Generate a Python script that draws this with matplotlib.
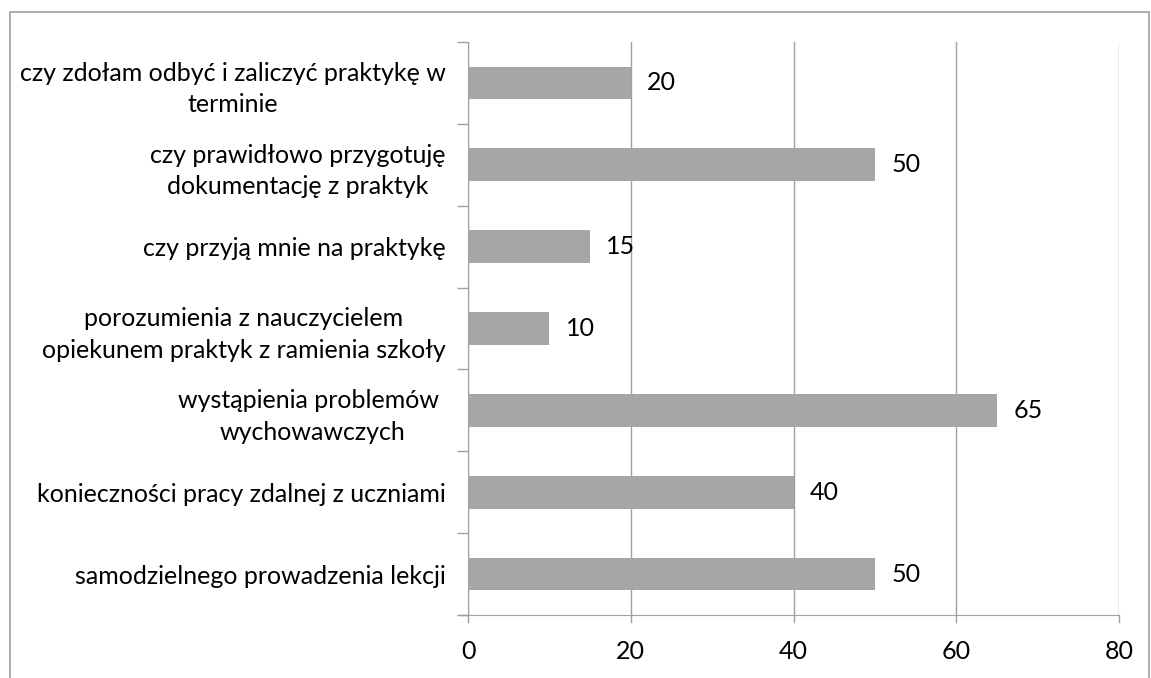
import matplotlib
matplotlib.use('Agg')
import matplotlib.pyplot as plt
from matplotlib.patches import Rectangle

categories = [
    "samodzielnego prowadzenia lekcji",
    "konieczności pracy zdalnej z uczniami",
    "wystąpienia problemów \nwychowawczych",
    "porozumienia z nauczycielem\nopiekunem praktyk z ramienia szkoły",
    "czy przyją mnie na praktykę",
    "czy prawidłowo przygotuję\ndokumentację z praktyk",
    "czy zdołam odbyć i zaliczyć praktykę w\nterminie",
]
values = [50, 40, 65, 10, 15, 50, 20]
xticks = [0, 20, 40, 60, 80]

plt.rcParams['font.family'] = ['Lato', 'DejaVu Sans']
grey = '#a6a6a6'
line = '#a0a0a0'
fs = 18

fig = plt.figure(figsize=(11.51, 6.78), dpi=100)
ax = fig.add_axes([468 / 1151, 1 - 615 / 678, (1119 - 468) / 1151, (615 - 42) / 678])

pos = list(range(len(categories)))
ax.barh(pos, values, height=0.4, color=grey, zorder=3)
for p, v in zip(pos, values):
    ax.text(v + 2.0, p, str(v), va='center', ha='left', fontsize=fs, zorder=4)

ax.set_xlim(0, 80)
ax.set_ylim(-0.5, len(categories) - 0.5)
ax.set_xticks(xticks)
ax.set_xticklabels([str(t) for t in xticks], fontsize=fs)
ax.set_yticks(pos)
ax.set_yticklabels(categories, fontsize=fs, multialignment='center', linespacing=1.45)
ax.tick_params(axis='y', length=0, pad=16)
ax.tick_params(axis='x', length=0, pad=18)

# category separators on the left spine
ax.set_yticks([p - 0.5 for p in pos] + [len(categories) - 0.5], minor=True)
ax.tick_params(axis='y', which='minor', length=8, color=line, width=1)
ax.set_xticks([], minor=True)

ax.grid(axis='x', color=line, linewidth=1, zorder=0)
for s in ['top', 'right']:
    ax.spines[s].set_visible(False)
for s in ['left', 'bottom']:
    ax.spines[s].set_color(line)

# ticks below the bottom axis
for t in xticks:
    ax.plot([t, t], [-0.5, -0.59], color=line, linewidth=1, clip_on=False, zorder=0)
ax.plot([-1, 0], [-0.5, -0.5], color=line, linewidth=1, clip_on=False)

fig.patches.append(Rectangle((10 / 1151, -0.02), 1139 / 1151, 1.02 - 12 / 678,
                             transform=fig.transFigure, fill=False,
                             edgecolor='#a0a0a0', linewidth=1.2))

fig.savefig('out.png', dpi=100)
